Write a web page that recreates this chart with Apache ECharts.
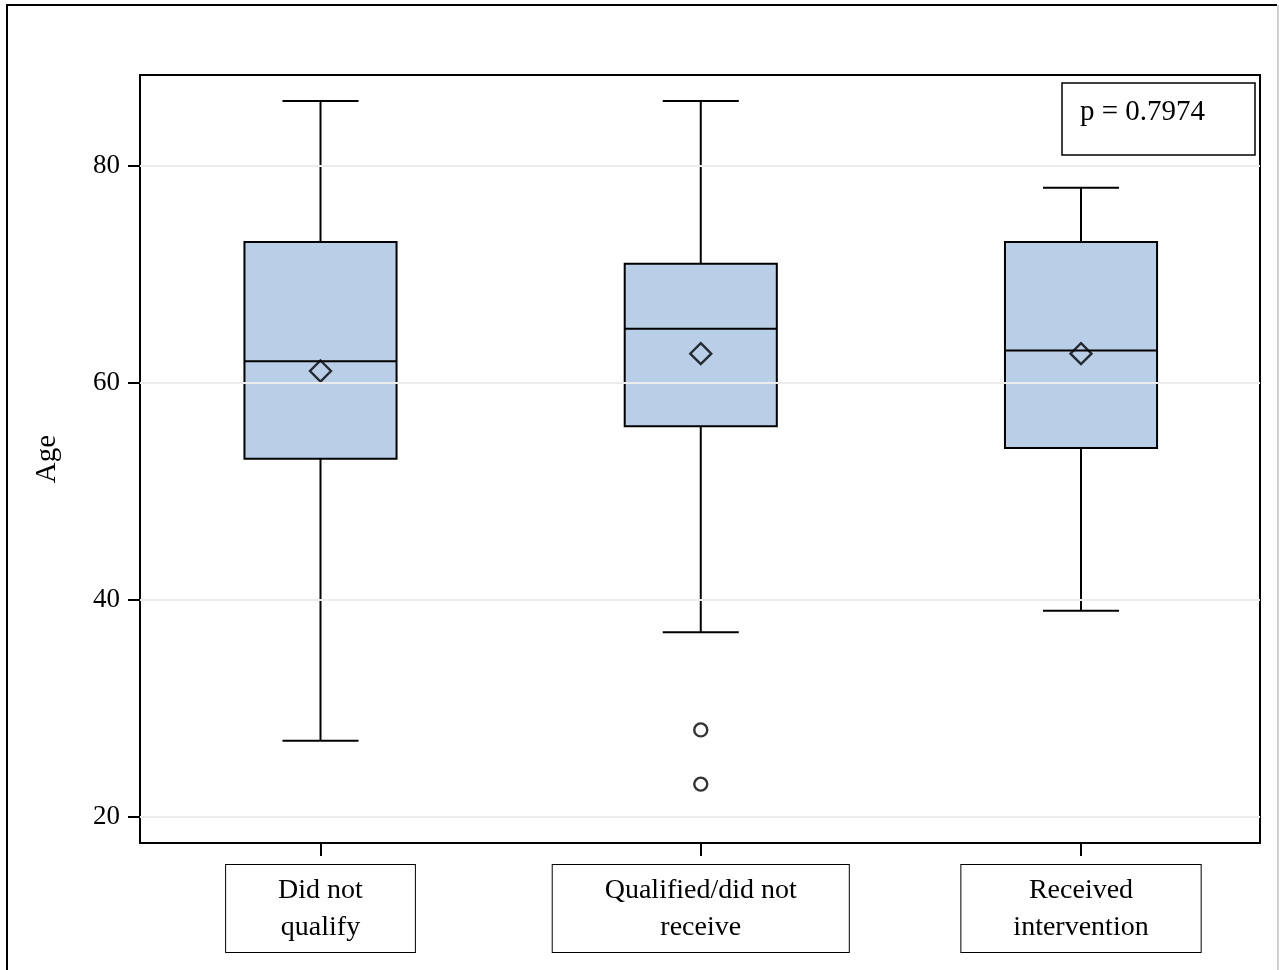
<!DOCTYPE html>
<html>
<head>
<meta charset="utf-8">
<script src="https://cdn.jsdelivr.net/npm/echarts@6/dist/echarts.min.js"></script>
<style>
  html, body { margin: 0; padding: 0; background: #fff; }
  #chart { width: 1282px; height: 970px; }
</style>
</head>
<body>
<div id="chart"></div>
<script>
// Age distribution by intervention group
const categories = ['Did not\nqualify', 'Qualified/did not\nreceive', 'Received\nintervention'];
const positions = [1, 2, 3];
const whiskerLow = [27, 37, 39];
const q1 = [53, 56, 54];
const median = [62, 65, 63];
const q3 = [73, 71, 73];
const whiskerHigh = [86, 86, 78];
const means = [61.1, 62.7, 62.7];
const outliers = [[2, 28], [2, 23]];
const yTicks = [20, 40, 60, 80];
const pText = 'p = 0.7974';

const FONT = '"Liberation Serif", "Times New Roman", serif';
const BOX_FILL = '#b9cfe7';

const boxData = positions.map((p, i) => [p, whiskerLow[i], q1[i], median[i], q3[i], whiskerHigh[i]]);
const meanData = positions.map((p, i) => [p, means[i]]);

function renderBox(params, api) {
  const x = api.value(0);
  const lo = api.coord([x, api.value(1)]);
  const b1 = api.coord([x, api.value(2)]);
  const md = api.coord([x, api.value(3)]);
  const b3 = api.coord([x, api.value(4)]);
  const hi = api.coord([x, api.value(5)]);
  const boxW = api.size([0.4, 0])[0];
  const capW = api.size([0.2, 0])[0];
  const cx = lo[0];
  const line = { stroke: '#000', lineWidth: 2 };
  return {
    type: 'group',
    children: [
      { type: 'line', shape: { x1: cx, y1: hi[1], x2: cx, y2: b3[1] }, style: line },
      { type: 'line', shape: { x1: cx, y1: b1[1], x2: cx, y2: lo[1] }, style: line },
      { type: 'line', shape: { x1: cx - capW / 2, y1: hi[1], x2: cx + capW / 2, y2: hi[1] }, style: line },
      { type: 'line', shape: { x1: cx - capW / 2, y1: lo[1], x2: cx + capW / 2, y2: lo[1] }, style: line },
      { type: 'rect', shape: { x: cx - boxW / 2, y: b3[1], width: boxW, height: b1[1] - b3[1] },
        style: { fill: BOX_FILL, stroke: '#000', lineWidth: 2 } },
      { type: 'line', shape: { x1: cx - boxW / 2, y1: md[1], x2: cx + boxW / 2, y2: md[1] }, style: line }
    ]
  };
}

const chart = echarts.init(document.getElementById('chart'), null, { renderer: 'canvas' });

chart.setOption({
  backgroundColor: '#fff',
  animation: false,
  grid: {
    left: 140, top: 75, right: 22, bottom: 127,
    show: true, borderColor: '#000', borderWidth: 2, backgroundColor: 'transparent'
  },
  xAxis: {
    type: 'value',
    min: 0.5253, max: 3.4707,
    axisLine: { show: true, lineStyle: { color: '#000', width: 2 } },
    axisTick: { show: true, customValues: positions, length: 13, lineStyle: { color: '#000', width: 2 } },
    splitLine: { show: false },
    axisLabel: {
      customValues: positions,
      formatter: v => categories[Math.round(v) - 1] || '',
      margin: 22,
      fontFamily: FONT, fontSize: 28, lineHeight: 37, color: '#000',
      align: 'center',
      borderColor: '#000', borderWidth: 1, backgroundColor: '#fff',
      padding: [7, 52, 6, 52]
    }
  },
  yAxis: {
    type: 'value',
    min: 17.57, max: 88.4,
    name: 'Age',
    nameLocation: 'middle',
    nameGap: 78,
    nameTextStyle: { fontFamily: FONT, fontSize: 29, color: '#000' },
    axisLine: { show: true, lineStyle: { color: '#000', width: 2 } },
    axisTick: { show: true, customValues: yTicks, length: 12, lineStyle: { color: '#000', width: 2 } },
    axisLabel: {
      customValues: yTicks, margin: 20,
      fontFamily: FONT, fontSize: 27, color: '#000'
    },
    splitLine: { show: false }
  },
  series: [
    {
      name: 'grid',
      type: 'line',
      data: [],
      silent: true,
      markLine: {
        silent: true,
        symbol: ['none', 'none'],
        label: { show: false },
        lineStyle: { color: '#ececec', width: 2, type: 'solid' },
        data: yTicks.map(v => ({ yAxis: v }))
      }
    },
    {
      name: 'box',
      type: 'custom',
      renderItem: renderBox,
      data: boxData,
      encode: { x: 0, y: [1, 2, 3, 4, 5] },
      z: 3
    },
    {
      name: 'mean',
      type: 'scatter',
      data: meanData,
      symbol: 'diamond',
      symbolSize: 21,
      itemStyle: { color: 'rgba(0,0,0,0)', borderColor: '#000', borderWidth: 2.4 },
      z: 4
    },
    {
      name: 'outlier',
      type: 'scatter',
      data: outliers,
      symbol: 'circle',
      symbolSize: 13,
      itemStyle: { color: '#fff', borderColor: '#000', borderWidth: 2.4 },
      z: 4
    }
  ],
  graphic: [
    // outer frame
    { type: 'polyline', shape: { points: [[7, 975], [7, 5], [1277, 5]] },
      style: { stroke: '#000', lineWidth: 2, fill: null }, silent: true },
    { type: 'line', shape: { x1: 1278, y1: 5, x2: 1278, y2: 975 },
      style: { stroke: '#d0d0d0', lineWidth: 2 }, silent: true },
    // p-value inset
    { type: 'rect', shape: { x: 1062, y: 83, width: 193, height: 72 },
      style: { fill: '#fff', stroke: '#000', lineWidth: 1.5 }, z: 10 },
    { type: 'text', x: 1080, y: 112, z: 11,
      style: { text: pText, fontFamily: FONT, fontSize: 29, fill: '#000', verticalAlign: 'middle', align: 'left' } }
  ]
});
</script>
</body>
</html>
